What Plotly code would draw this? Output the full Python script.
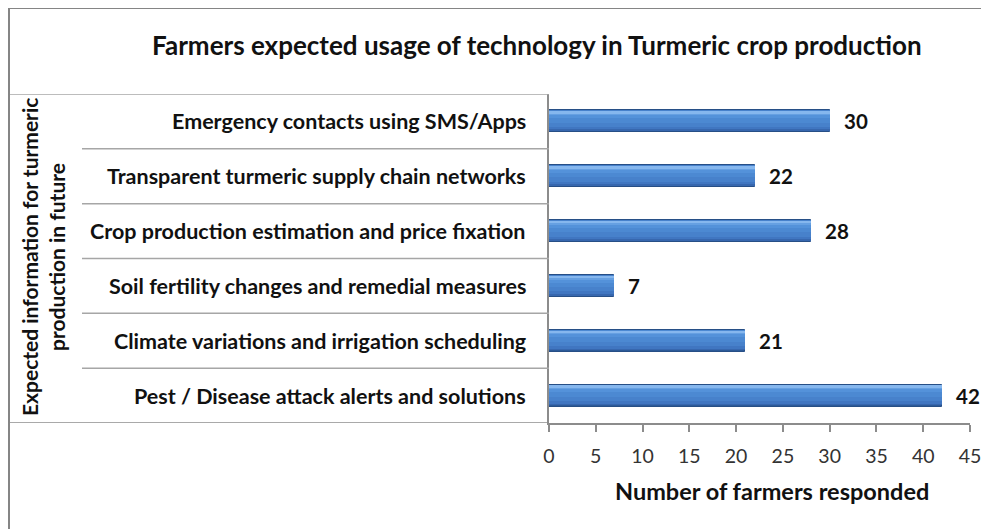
import plotly.graph_objects as go

# ---- data ----
categories = [
    "Pest / Disease attack alerts and solutions",
    "Climate variations and irrigation scheduling",
    "Soil fertility changes and remedial measures",
    "Crop production estimation and price fixation",
    "Transparent turmeric supply chain networks",
    "Emergency contacts using SMS/Apps",
]
values = [42, 21, 7, 28, 22, 30]
x_ticks = [0, 5, 10, 15, 20, 25, 30, 35, 40, 45]

title_text = "Farmers expected usage of technology in Turmeric crop production"
x_title = "Number of farmers responded"
y_title_lines = ["Expected information for turmeric", "production in future"]

FONT = "Lato"
W, H = 989, 529
OFF = 8  # page body margin offset
# target plot area (screen px): x 549..970, y 94..423
L = 549 - OFF
T = 94 - OFF
R = W - (970 - OFF)
B = H - (423 - OFF)
PW, PH = W - L - R, H - T - B


def px2x(px):
    return (px - OFF - L) / PW


def px2y(py):
    return (H - B - (py - OFF)) / PH


fig = go.Figure()

# bar layers to mimic a cylinder gradient
layers = [
    (-0.20, 0.40, "#2C5A98"),
    (-0.175, 0.375, "#3767AE"),
    (-0.145, 0.345, "#4076C1"),
    (-0.10, 0.30, "#4781CB"),
    (-0.02, 0.21, "#4C89D2"),
    (0.06, 0.125, "#5492DA"),
    (0.115, 0.07, "#66A0E2"),
    (0.15, 0.035, "#86B7EE"),
]
for i, (off, wid, col) in enumerate(layers):
    fig.add_trace(go.Bar(
        y=categories, x=values, orientation="h", width=wid, offset=off,
        marker=dict(color=col, line=dict(color="#274F86", width=1) if i == 0 else dict(width=0)),
        hoverinfo="skip", showlegend=False))

annotations = []
# category labels
for c in categories:
    annotations.append(dict(
        x=0, xref="paper", y=c, yref="y", text=c, showarrow=False,
        xanchor="right", xshift=-21,
        font=dict(family=FONT, size=21.5, color="#111111", weight="bold")))
# data labels
for c, v in zip(categories, values):
    annotations.append(dict(
        x=v, xref="x", y=c, yref="y", text=str(v), showarrow=False,
        xanchor="left", xshift=12,
        font=dict(family=FONT, size=20.5, color="#111111", weight="bold")))
# y title (two rotated lines)
for i, line in enumerate(y_title_lines):
    annotations.append(dict(
        x=px2x(29 + 27 * i), xref="paper", y=px2y(257), yref="paper",
        text=line, showarrow=False, textangle=-90,
        xanchor="center", yanchor="middle",
        font=dict(family=FONT, size=21, color="#111111", weight="bold")))
# x title
annotations.append(dict(
    x=px2x(772), xref="paper", y=px2y(491), yref="paper", text=x_title,
    showarrow=False, xanchor="center", yanchor="middle",
    font=dict(family=FONT, size=23.5, color="#111111", weight="bold")))
# title
annotations.append(dict(
    x=px2x(537), xref="paper", y=px2y(45), yref="paper", text=title_text,
    showarrow=False, xanchor="center", yanchor="middle",
    font=dict(family=FONT, size=26, color="#111111", weight="bold")))

shapes = []
grid_col = "#A6A6A6"
# inner separators
for k in range(1, len(categories)):
    shapes.append(dict(type="line", xref="paper", yref="y",
                       x0=px2x(82), x1=0, y0=k - 0.5, y1=k - 0.5,
                       line=dict(color=grid_col, width=1.5)))
# top line of category box
shapes.append(dict(type="line", xref="paper", yref="y",
                   x0=px2x(9), x1=0, y0=len(categories) - 0.5, y1=len(categories) - 0.5,
                   line=dict(color=grid_col, width=1.5)))
# bottom line extended left
shapes.append(dict(type="line", xref="paper", yref="y",
                   x0=px2x(9), x1=0, y0=-0.5, y1=-0.5,
                   line=dict(color="#8C8C8C", width=1.5)))
# outer chart border
shapes.append(dict(type="rect", xref="paper", yref="paper",
                   x0=px2x(9), x1=px2x(1010), y0=px2y(560), y1=px2y(8),
                   line=dict(color="#858585", width=2), fillcolor="rgba(0,0,0,0)"))

fig.update_layout(
    width=W, height=H,
    margin=dict(l=L, r=R, t=T, b=B),
    paper_bgcolor="white", plot_bgcolor="white",
    barmode="overlay", bargap=0,
    annotations=annotations, shapes=shapes,
    showlegend=False,
)
fig.update_xaxes(
    range=[0, 45], tickvals=x_ticks, ticktext=[str(t) for t in x_ticks],
    showgrid=False, zeroline=False, showline=True, linecolor="#8C8C8C", linewidth=1.5,
    ticks="outside", ticklen=7, tickcolor="#8C8C8C", tickwidth=1.5,
    ticklabelstandoff=8,
    tickfont=dict(family=FONT, size=19.5, color="#333333"),
)
fig.update_yaxes(
    categoryorder="array", categoryarray=categories, range=[-0.5, 5.5],
    showticklabels=False, showgrid=False, zeroline=False,
    showline=True, linecolor="#8C8C8C", linewidth=1.5, ticks="",
)

fig.write_html("out.html")
